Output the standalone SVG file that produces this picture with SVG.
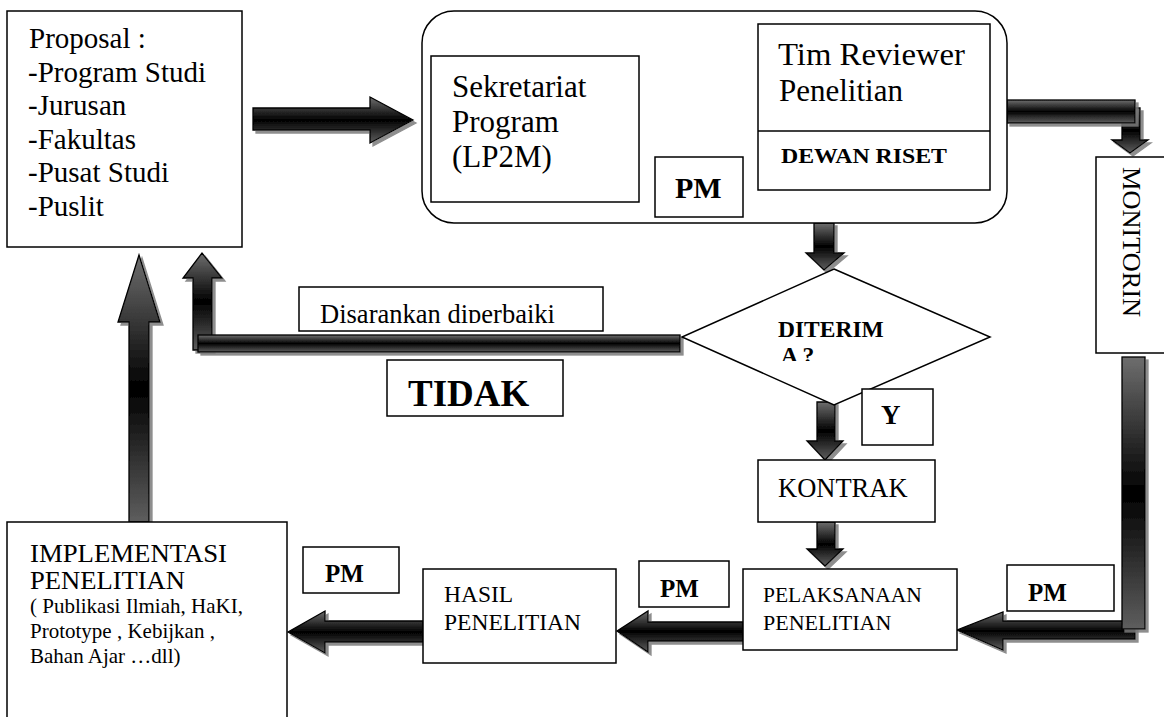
<svg xmlns="http://www.w3.org/2000/svg" width="1164" height="717" viewBox="0 0 1164 717">
<style>
.box{fill:#fff;stroke:#000;stroke-width:1.5}
.t{font-family:"Liberation Serif","Times New Roman",serif;fill:#000}
.b{font-weight:bold}
.arr{fill:url(#gh);stroke:#000;stroke-width:1.3;filter:url(#sh)}
</style>
<defs>
<linearGradient id="gh" x1="0" y1="0" x2="0" y2="1">
<stop offset="0" stop-color="#6e6e6e"/>
<stop offset="0.5" stop-color="#000"/>
<stop offset="1" stop-color="#5e5e5e"/>
</linearGradient>
<filter id="sh" filterUnits="userSpaceOnUse" x="0" y="0" width="1164" height="717">
<feOffset in="SourceAlpha" dx="3" dy="3" result="o"/>
<feFlood flood-color="#7a7a7a" flood-opacity="0.85"/>
<feComposite in2="o" operator="in" result="s"/>
<feMerge><feMergeNode in="s"/><feMergeNode in="SourceGraphic"/></feMerge>
</filter>
<clipPath id="clipDis"><rect x="299" y="287" width="304" height="36"/></clipPath>
<clipPath id="clipA"><rect x="760" y="340" width="100" height="21"/></clipPath>
</defs>

<g id="connectors">
<path class="arr" d="M253,108 H370 V97 L413,120 L370,143 V130 H253 Z"/>
<path d="M655,95 H721 V83 L743,107 L721,130 V118 H655 Z" fill="#fff" stroke="#000" stroke-width="1.3"/>
<path class="arr" d="M1122,108 H1140 V140 H1148 L1130,153 L1112,140 H1122 Z"/>
<rect class="arr" x="1007" y="100" width="128" height="23"/>
<path class="arr" d="M814,223 H834 V253 H844 L824,270 L806,253 H814 Z"/>
<path class="arr" d="M817,402 H835 V441 H843 L825,460 L807,441 H817 Z"/>
<path class="arr" d="M817,522 H835 V549 H843 L825,566 L807,549 H817 Z"/>
<path class="arr" d="M1135,621 H1003 V612 L957,630 L1003,650 V639 H1135 Z"/>
<rect class="arr" x="1122" y="357" width="23" height="272"/>
<path class="arr" d="M743,622 H648 V611 L617,631 L648,652 V641 H743 Z"/>
<path class="arr" d="M423,621 H325 V611 L288,632 L325,653 V642 H423 Z"/>
<path class="arr" d="M129,522 V322 H118 L139,255 L160,322 H149 V522 Z"/>
<path class="arr" d="M193,350 V278 H183 L202,253 L222,278 H212 V350 Z"/>
<rect class="arr" x="198" y="335" width="482" height="17"/>
</g>

<g id="proposal">
<rect class="box" x="7" y="11" width="235" height="236"/>
<text class="t" font-size="29" x="29" y="48">Proposal :</text>
<text class="t" font-size="29" x="28" y="82">-Program Studi</text>
<text class="t" font-size="29" x="28" y="115">-Jurusan</text>
<text class="t" font-size="29" x="28" y="149">-Fakultas</text>
<text class="t" font-size="29" x="28" y="182">-Pusat Studi</text>
<text class="t" font-size="29" x="28" y="216">-Puslit</text>
</g>

<g id="container">
<rect class="box" x="422" y="11" width="585" height="212" rx="32"/>
</g>

<g id="sekretariat">
<rect class="box" x="431" y="56" width="208" height="146"/>
<text class="t" font-size="31" x="452" y="97">Sekretariat</text>
<text class="t" font-size="31" x="452" y="132">Program</text>
<text class="t" font-size="31" x="452" y="167">(LP2M)</text>
</g>

<g id="pm-top">
<rect class="box" x="655" y="157" width="88" height="60"/>
<text class="t b" font-size="30" x="675" y="198">PM</text>
</g>

<g id="reviewer">
<rect class="box" x="758" y="24" width="232" height="166"/>
<line x1="758" y1="131" x2="990" y2="131" stroke="#000" stroke-width="1.5"/>
<text class="t" font-size="31" x="778" y="65" textLength="187" lengthAdjust="spacingAndGlyphs">Tim Reviewer</text>
<text class="t" font-size="31" x="779" y="101">Penelitian</text>
<text class="t b" font-size="22" x="781" y="163" textLength="166" lengthAdjust="spacingAndGlyphs">DEWAN RISET</text>
</g>

<g id="monitoring">
<rect class="box" x="1096" y="157" width="80" height="196"/>
<text class="t" font-size="26" transform="translate(1123,167) rotate(90)" textLength="150" lengthAdjust="spacingAndGlyphs">MONITORIN</text>
</g>

<g id="disarankan">
<rect class="box" x="299" y="287" width="304" height="44"/>
<text class="t" font-size="26.5" x="320" y="323" clip-path="url(#clipDis)" textLength="235" lengthAdjust="spacingAndGlyphs">Disarankan diperbaiki</text>
</g>

<g id="tidak">
<rect class="box" x="387" y="360" width="176" height="56"/>
<text class="t b" font-size="37" x="408" y="406">TIDAK</text>
</g>

<g id="diterima">
<polygon class="box" points="834,269 990,337 834,405 682,337"/>
<text class="t b" font-size="23.5" x="778" y="337">DITERIM</text>
<text class="t b" font-size="23.5" x="781" y="363" clip-path="url(#clipA)">A ?</text>
</g>

<g id="y-label">
<rect class="box" x="862" y="389" width="71" height="56"/>
<text class="t b" font-size="27" x="881" y="424">Y</text>
</g>

<g id="kontrak">
<rect class="box" x="758" y="460" width="177" height="62"/>
<text class="t" font-size="26.5" x="778" y="497">KONTRAK</text>
</g>

<g id="pelaksanaan">
<rect class="box" x="743" y="569" width="214" height="81"/>
<text class="t" font-size="21.5" x="763" y="602">PELAKSANAAN</text>
<text class="t" font-size="22" x="763" y="630">PENELITIAN</text>
</g>

<g id="pm-right">
<rect class="box" x="1007" y="565" width="107" height="46"/>
<text class="t b" font-size="25" x="1028" y="601">PM</text>
</g>

<g id="hasil">
<rect class="box" x="423" y="569" width="193" height="94"/>
<text class="t" font-size="23.5" x="444" y="602">HASIL</text>
<text class="t" font-size="23.5" x="444" y="630">PENELITIAN</text>
</g>

<g id="pm-mid">
<rect class="box" x="639" y="561" width="90" height="46"/>
<text class="t b" font-size="25" x="660" y="597">PM</text>
</g>

<g id="pm-left">
<rect class="box" x="303" y="547" width="96" height="46"/>
<text class="t b" font-size="25" x="325" y="582">PM</text>
</g>

<g id="implementasi">
<rect class="box" x="7" y="522" width="280" height="210"/>
<text class="t" font-size="25" x="30" y="562" textLength="197" lengthAdjust="spacingAndGlyphs">IMPLEMENTASI</text>
<text class="t" font-size="25" x="30" y="589" textLength="155" lengthAdjust="spacingAndGlyphs">PENELITIAN</text>
<text class="t" font-size="21" x="30" y="613">( Publikasi Ilmiah, HaKI,</text>
<text class="t" font-size="21" x="30" y="638">Prototype , Kebijkan ,</text>
<text class="t" font-size="21" x="30" y="663">Bahan Ajar …dll)</text>
</g>
</svg>
